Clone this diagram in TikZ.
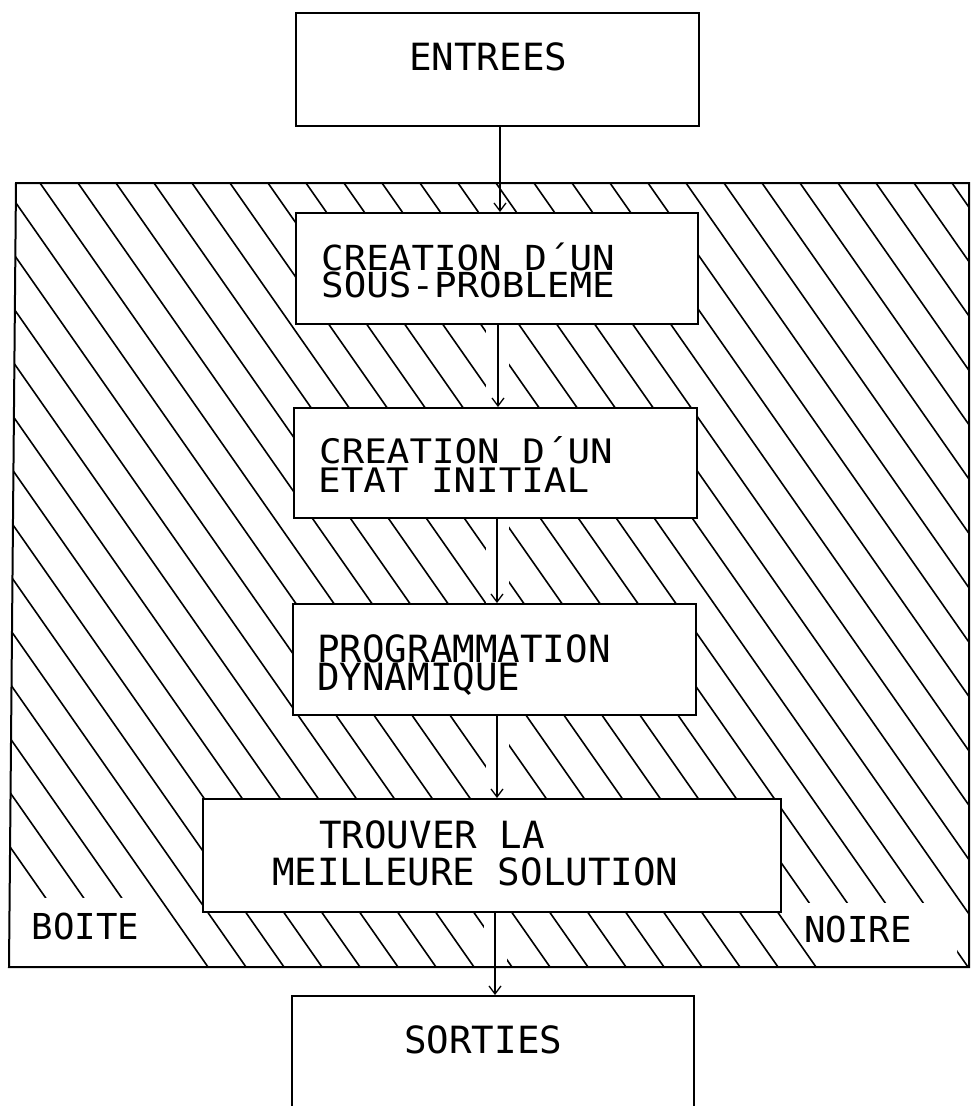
\documentclass[tikz,border=0pt]{standalone}
\usepackage{fontspec}
\newfontfamily\plotfont{DejaVu Sans Mono}
\usetikzlibrary{arrows.meta}
\begin{document}
\begin{tikzpicture}[x=1pt,y=-1pt,
  box/.style={draw, line width=1.9pt, fill=white, rectangle, inner sep=0pt},
  lbl/.style={anchor=base west, inner sep=0pt, font=\plotfont\fontsize{37.5}{40}\selectfont},
  slbl/.style={anchor=base west, inner sep=0pt, font=\plotfont\fontsize{35.7}{40}\selectfont},
  hatch/.style={line width=1.6pt},
  flow/.style={line width=1.4pt, -{Straight Barb[length=8pt,width=12pt,line width=1.3pt]}},
  blank/.style={fill=white, draw=none},
  border/.style={line width=2pt}]
\useasboundingbox (0,0) rectangle (971,1106);
\clip (0,0) rectangle (971,1106);
\fill[white] (0,0) rectangle (971,1106);

% hatching of the black box
\begin{scope}
  \clip (16,183) -- (969,183) -- (969,967) -- (9,967) -- cycle;
  \foreach \k in {-16,...,26} \draw[hatch] ({\k*38+2},183) -- ++(548,784);
\end{scope}
% blank areas of the hatching
\fill[blank] (9,898) -- (156,898) -- (203,966) -- (9,966) -- cycle;
\fill[blank] (795,903) -- (957,903) -- (957,966) -- (838,966) -- cycle;
\fill[blank] (486,324) rectangle (509,408);
\fill[blank] (486,518) rectangle (509,604);
\fill[blank] (486,715) rectangle (509,799);
\fill[blank] (484,912) rectangle (507,966);

% outer box
\draw[border] (16,183) -- (969,183) -- (969,967) -- (9,967) -- cycle;

% boxes
\node[box, minimum width=403pt, minimum height=113pt] (entrees) at (497.5,69.5) {};
\node[box, minimum width=402pt, minimum height=111pt] (b1) at (497,268.5) {};
\node[box, minimum width=403pt, minimum height=110pt] (b2) at (495.5,463) {};
\node[box, minimum width=403pt, minimum height=111pt] (b3) at (494.5,659.5) {};
\node[box, minimum width=578pt, minimum height=113pt] (b4) at (492,855.5) {};
\node[box, minimum width=402pt, minimum height=140pt] (sorties) at (493,1066) {};

% connectors
\draw[flow] ([xshift=2.5pt]entrees.south) -- ([xshift=2.5pt]entrees.south |- b1.north);
\draw[flow] ([xshift=1pt]b1.south) -- ([xshift=1pt]b1.south |- b2.north);
\draw[flow] ([xshift=1.5pt]b2.south) -- ([xshift=1.5pt]b2.south |- b3.north);
\draw[flow] ([xshift=2.5pt]b3.south) -- ([xshift=2.5pt]b3.south |- b4.north);
\draw[flow] ([xshift=3pt]b4.south) -- ([xshift=3pt]b4.south |- sorties.north);

% texts
\node[lbl] (tentrees) at (409,70) {ENTREES};
\node[lbl] (t1a) at (321,270) {\scalebox{1}[0.92]{CREATION D´UN}};
\node[lbl] (t1b) at (321,297) {\scalebox{1}[0.92]{SOUS-PROBLEME}};
\node[lbl] (t2a) at (319,463) {\scalebox{1}[0.9]{CREATION D´UN}};
\node[lbl] (t2b) at (318,492) {\scalebox{1}[0.9]{ETAT INITIAL}};
\node[lbl] (t3a) at (317,662) {PROGRAMMATION};
\node[lbl] (t3b) at (317,690) {DYNAMIQUE};
\node[lbl] (t4a) at (319,848) {TROUVER LA};
\node[lbl] (t4b) at (272,885) {MEILLEURE SOLUTION};
\node[lbl] (tsorties) at (404,1053) {SORTIES};
\node[slbl] (tboite) at (31.5,939) {BOITE};
\node[slbl] (tnoire) at (804,942) {NOIRE};
\end{tikzpicture}
\end{document}
